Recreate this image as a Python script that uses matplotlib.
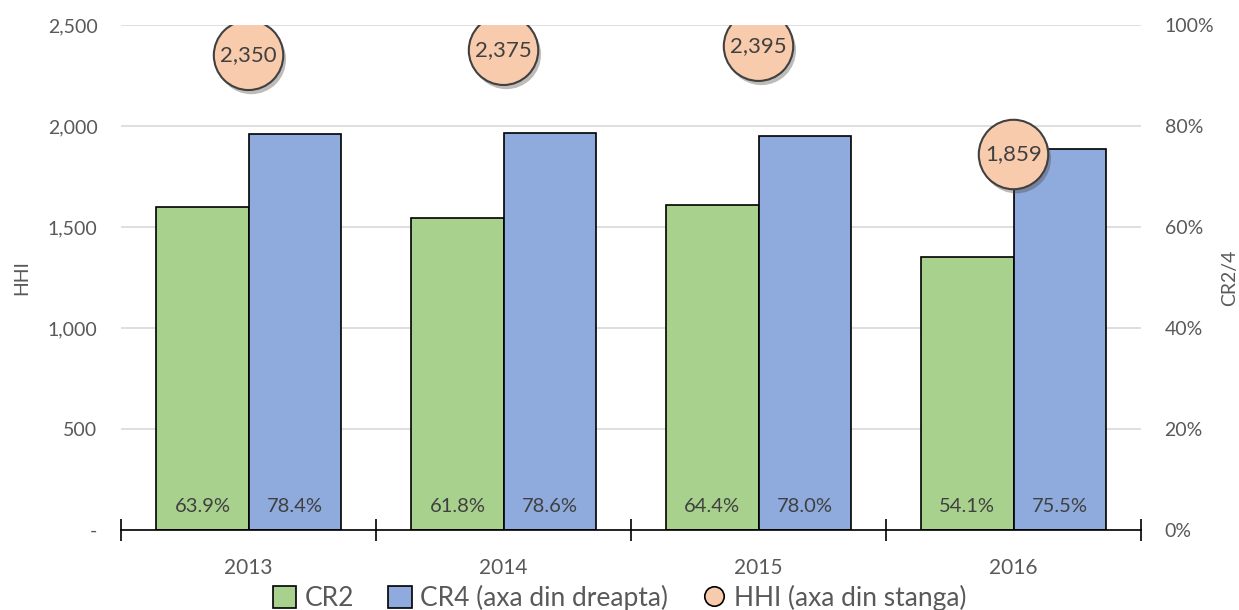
import numpy as np
import matplotlib
matplotlib.use('Agg')
import matplotlib.pyplot as plt
import matplotlib.patheffects as pe
from matplotlib.lines import Line2D
from matplotlib.patches import Patch
from matplotlib.ticker import FuncFormatter

years = ['2013', '2014', '2015', '2016']
cr2 = [63.9, 61.8, 64.4, 54.1]
cr4 = [78.4, 78.6, 78.0, 75.5]
hhi = [2350, 2375, 2395, 1859]

green = '#A9D18E'
blue = '#8FAADC'
peach = '#F8CBAD'
txt = '#404040'
tick_col = '#595959'

plt.rcParams['font.family'] = ['Lato', 'DejaVu Sans']

fig = plt.figure(figsize=(12.39, 6.10), dpi=100)
ax = fig.add_axes([0.0977, 0.1311, 0.8232, 0.8279])
ax2 = ax.twinx()

ind = np.arange(len(years))
width = 0.362

# bars on the right (percentage) axis, kept underneath the HHI axis
ax2.bar(ind - width / 2, cr2, width, color=green, edgecolor='black', linewidth=1.2, zorder=3)
ax2.bar(ind + width / 2, cr4, width, color=blue, edgecolor='black', linewidth=1.2, zorder=3)
for i in ind:
    ax2.text(i - width / 2, 4.6, '%.1f%%' % cr2[i], ha='center', va='center',
             fontsize=14.5, color=txt, zorder=4)
    ax2.text(i + width / 2, 4.6, '%.1f%%' % cr4[i], ha='center', va='center',
             fontsize=14.5, color=txt, zorder=4)
ax2.set_ylim(0, 100)
ax2.set_yticks(np.arange(0, 120, 20))
ax2.yaxis.set_major_formatter(FuncFormatter(lambda v, p: '%d%%' % v))
ax2.grid(axis='y', color='#D9D9D9', linewidth=1.2, zorder=0)
ax2.set_axisbelow(True)
ax2.set_ylabel('CR2/4', fontsize=14, color=tick_col, rotation=90, ha='center', va='center')
ax2.yaxis.set_label_coords(1.087, 0.5)

# HHI bubbles on the left axis
ax.set_zorder(ax2.get_zorder() + 1)
ax.patch.set_visible(False)
ax.scatter(ind, hhi, s=2500, color=peach, edgecolor=txt, linewidth=1.5, zorder=5,
           path_effects=[pe.SimplePatchShadow(offset=(2, -3), alpha=0.35), pe.Normal()])
for i in ind:
    ax.text(i, hhi[i], format(hhi[i], ','), ha='center', va='center',
            fontsize=16, color=txt, zorder=6)
ax.set_ylim(0, 2500)
ax.set_yticks(np.arange(0, 3000, 500))
ax.yaxis.set_major_formatter(FuncFormatter(lambda v, p: '-' if v == 0 else format(int(v), ',')))
ax.set_ylabel('HHI', fontsize=14, color=tick_col, ha='center', va='center')
ax.yaxis.set_label_coords(-0.097, 0.5)

ax.set_xlim(-0.5, len(years) - 0.5)
ax.set_xticks(np.arange(-0.5, len(years), 1.0))
ax.set_xticklabels([])
ax.set_xticks(ind, minor=True)
ax.set_xticklabels(years, minor=True)
ax.tick_params(axis='x', which='major', direction='inout', length=16, width=1.2, color='black')
ax.tick_params(axis='x', which='minor', length=0, pad=20, labelsize=15, labelcolor=tick_col)
ax.tick_params(axis='y', length=0, pad=17, labelsize=14, labelcolor=tick_col)
ax2.tick_params(axis='y', length=0, pad=17, labelsize=14, labelcolor=tick_col)
ax2.tick_params(axis='x', which='both', length=0, labelbottom=False)

for s in ['top', 'left', 'right']:
    ax.spines[s].set_visible(False)
    ax2.spines[s].set_visible(False)
ax2.spines['bottom'].set_visible(False)
ax.spines['bottom'].set_color('black')
ax.spines['bottom'].set_linewidth(1.2)

handles = [
    Patch(facecolor=green, edgecolor='black', linewidth=1.2),
    Patch(facecolor=blue, edgecolor='black', linewidth=1.2),
    Line2D([], [], marker='o', linestyle='none', markersize=14,
           markerfacecolor=peach, markeredgecolor='black', markeredgewidth=1.2),
]
labels = ['CR2', 'CR4 (axa din dreapta)', 'HHI (axa din stanga)']
leg = fig.legend(handles, labels, loc='center', bbox_to_anchor=(0.5, 0.02), ncol=3,
                 frameon=False, fontsize=19, handlelength=0.9, handleheight=0.9,
                 handletextpad=0.3, columnspacing=1.3)
for t in leg.get_texts():
    t.set_color(tick_col)

plt.savefig('out.png', dpi=100)
plt.close()
